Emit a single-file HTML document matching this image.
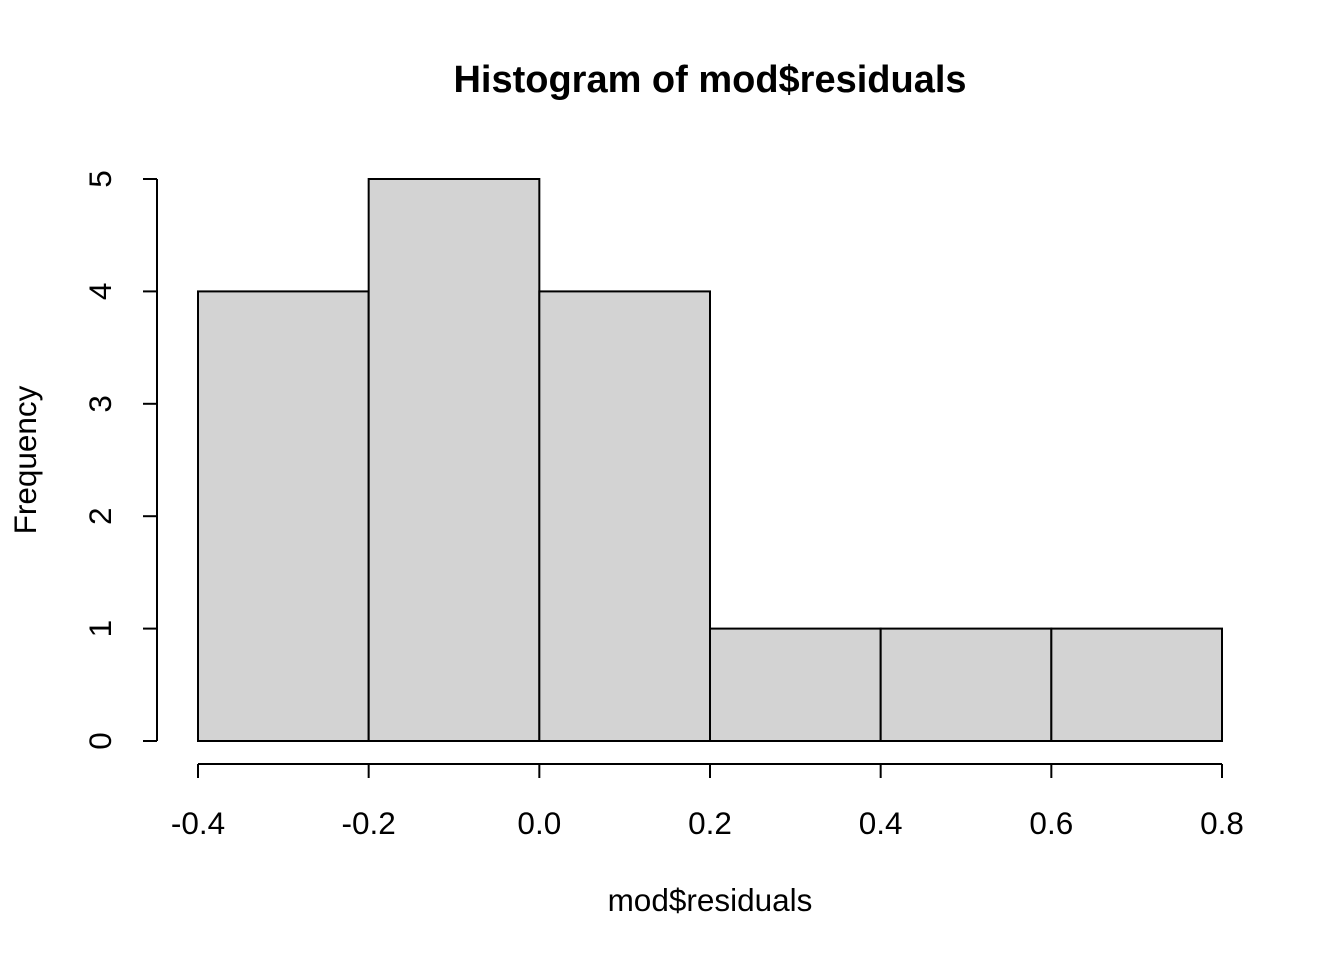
<!DOCTYPE html>
<html><head><meta charset="utf-8"><style>body{margin:0;background:#fff}svg{display:block}text{font-family:"Liberation Sans",Arial,sans-serif;fill:#000}</style></head>
<body>
<svg id="chart" width="1344" height="960" viewBox="0 0 1344 960">
<text x="710" y="92" text-anchor="middle" font-size="38" font-weight="bold">Histogram of mod$residuals</text>
<text x="710" y="911" text-anchor="middle" font-size="31.5">mod$residuals</text>
<text transform="translate(36,460) rotate(-90)" text-anchor="middle" font-size="31.5">Frequency</text>
<g id="bars"></g><g id="xaxis"></g><g id="yaxis"></g>
</svg>
<script>
const binEdges=[-0.4,-0.2,0.0,0.2,0.4,0.6,0.8];
const counts=[4,5,4,1,1,1];
const xTicks=[-0.4,-0.2,0.0,0.2,0.4,0.6,0.8];
const xTickLabels=["-0.4","-0.2","0.0","0.2","0.4","0.6","0.8"];
const yTicks=[0,1,2,3,4,5];
const yTickLabels=["0","1","2","3","4","5"];
const NS="http://www.w3.org/2000/svg";
const sx=v=>198+(v+0.4)*(1222-198)/1.2;
const sy=v=>741-v*(741-179)/5;
function mk(tag,attrs,parent){const e=document.createElementNS(NS,tag);for(const k in attrs)e.setAttribute(k,attrs[k]);parent.appendChild(e);return e;}
const bars=document.getElementById('bars');
counts.forEach((c,i)=>{const x0=sx(binEdges[i]),x1=sx(binEdges[i+1]);
const r=mk('rect',{x:x0,y:sy(c),width:x1-x0,height:sy(0)-sy(c),fill:'#d3d3d3',stroke:'#000','stroke-width':2},bars);

});
const xa=document.getElementById('xaxis');
const xl=mk('line',{x1:sx(xTicks[0]),x2:sx(xTicks[xTicks.length-1]),y1:764,y2:764,stroke:'#000','stroke-width':2},xa);


xTicks.forEach((t,i)=>{const x=sx(t);
const tk=mk('line',{x1:x,x2:x,y1:764,y2:778,stroke:'#000','stroke-width':2},xa);


const tx=mk('text',{x:x,y:834,'text-anchor':'middle','font-size':31.5},xa);tx.textContent=xTickLabels[i];

});
const ya=document.getElementById('yaxis');
const yl=mk('line',{x1:157,x2:157,y1:sy(yTicks[0]),y2:sy(yTicks[yTicks.length-1]),stroke:'#000','stroke-width':2},ya);


yTicks.forEach((t,i)=>{const y=sy(t);
const tk=mk('line',{x1:143,x2:157,y1:y,y2:y,stroke:'#000','stroke-width':2},ya);


const tx=mk('text',{transform:`translate(111,${y}) rotate(-90)`,'text-anchor':'middle','font-size':31.5},ya);tx.textContent=yTickLabels[i];

});
</script>
</body></html>
